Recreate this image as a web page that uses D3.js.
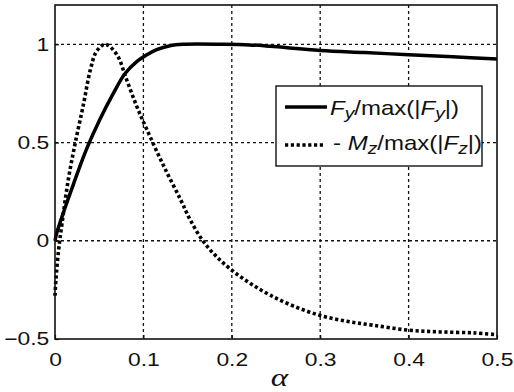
<!DOCTYPE html>
<html>
<head>
<meta charset="utf-8">
<script src="https://d3js.org/d3.v7.min.js"></script>
<style>
  body { margin: 0; background: #fff; }
  text { font-family: "Liberation Sans", Arial, sans-serif; }
</style>
</head>
<body>
<div id="chart"></div>
<script>
// data
var fyAlpha = [0, 0.002, 0.01, 0.021, 0.036, 0.051, 0.066, 0.079, 0.0925, 0.104, 0.115, 0.13, 0.145, 0.19, 0.22, 0.2435, 0.3, 0.35, 0.4, 0.45, 0.5];
var fyValue = [0, 0.04, 0.15, 0.29, 0.47, 0.62, 0.75, 0.85, 0.912, 0.947, 0.973, 0.993, 1.0, 1.0, 0.997, 0.99, 0.969, 0.958, 0.947, 0.936, 0.925];
var mzAlpha = [0, 0.001, 0.004, 0.008, 0.015, 0.023, 0.032, 0.04, 0.047, 0.057, 0.07, 0.081, 0.0925, 0.104, 0.123, 0.142, 0.153, 0.168, 0.183, 0.2, 0.221, 0.2435, 0.27, 0.3, 0.33, 0.36, 0.4, 0.436, 0.474, 0.5];
var mzValue = [-0.28, -0.2, -0.05, 0.09, 0.31, 0.5, 0.69, 0.87, 0.964, 1.0, 0.947, 0.82, 0.684, 0.565, 0.38, 0.21, 0.106, -0.005, -0.082, -0.15, -0.217, -0.277, -0.333, -0.38, -0.41, -0.43, -0.455, -0.464, -0.469, -0.478];
var xTicks = [0, 0.1, 0.2, 0.3, 0.4, 0.5];
var yTicks = [-0.5, 0, 0.5, 1];

var width = 514, height = 392;
var margin = {top: 5, left: 55, right: 17, bottom: 53};
var w = width - margin.left - margin.right, h = height - margin.top - margin.bottom;
var sx = 1.27; // the source picture is stretched sideways
var sxLeg = 1.2;

var svg = d3.select("#chart").append("svg")
    .attr("width", width)
    .attr("height", height);
var g = svg.append("g")
    .attr("transform", "translate(" + margin.left + "," + margin.top + ")");

var x = d3.scaleLinear().domain([0, 0.5]).range([0, w]);
var y = d3.scaleLinear().domain([-0.5, 1.2]).range([h, 0]);

// grid
g.selectAll(".gx").data(xTicks.slice(1, -1)).enter().append("line")
    .attr("x1", function(d) { return x(d); }).attr("x2", function(d) { return x(d); })
    .attr("y1", 0).attr("y2", h)
    .attr("stroke", "#111").attr("stroke-width", 1.3).attr("stroke-dasharray", "3,3");
g.selectAll(".gy").data(yTicks.slice(1)).enter().append("line")
    .attr("y1", function(d) { return y(d); }).attr("y2", function(d) { return y(d); })
    .attr("x1", 0).attr("x2", w)
    .attr("stroke", "#111").attr("stroke-width", 1.3).attr("stroke-dasharray", "3,3");

// axes, ticks pointing inwards
var xAxis = g.append("g")
    .attr("transform", "translate(0," + h + ")")
    .call(d3.axisBottom(x).tickValues(xTicks).tickSize(-4).tickPadding(14)
      .tickFormat(function(d) { return d === 0 ? "0" : d3.format(".1f")(d); }));
var yAxis = g.append("g")
    .call(d3.axisLeft(y).tickValues(yTicks).tickSize(-4).tickPadding(10)
      .tickFormat(function(d) { return d === 0 ? "0" : d === 1 ? "1" : d3.format(".1f")(d).replace("-", "\u2013"); }));
[xAxis, yAxis].forEach(function(a) {
  a.select(".domain").remove();
  a.selectAll("line").attr("stroke", "#111").attr("stroke-width", 1.2);
  a.selectAll("text").attr("font-size", 18).attr("fill", "#111")
    .style("font-family", "'Liberation Sans', Arial, sans-serif");
});
xAxis.selectAll("text").attr("transform", "scale(" + sx + ",1)");
yAxis.selectAll("text").attr("transform", "translate(7,0) scale(" + sx + ",1)");

// curves
var line = d3.line()
    .x(function(d) { return x(d[0]); })
    .y(function(d) { return y(d[1]); })
    .curve(d3.curveCatmullRom.alpha(0.5));

g.append("path")
    .datum(fyAlpha.map(function(a, i) { return [a, fyValue[i]]; }))
    .attr("d", line)
    .attr("fill", "none").attr("stroke", "#000").attr("stroke-width", 3.5);

g.append("path")
    .datum(mzAlpha.map(function(a, i) { return [a, mzValue[i]]; }))
    .attr("d", line)
    .attr("fill", "none").attr("stroke", "#000").attr("stroke-width", 3.6)
    .attr("stroke-dasharray", "3.2,2.6");

// frame
g.append("rect")
    .attr("width", w).attr("height", h)
    .attr("fill", "none").attr("stroke", "#111").attr("stroke-width", 1.6);

// legend
var lg = svg.append("g").attr("transform", "translate(276,86)");
lg.append("rect").attr("width", 206).attr("height", 80)
    .attr("fill", "#fff").attr("stroke", "#111").attr("stroke-width", 1.4);
lg.append("line").attr("x1", 9).attr("x2", 51).attr("y1", 21).attr("y2", 21)
    .attr("stroke", "#000").attr("stroke-width", 3.5);
lg.append("line").attr("x1", 9).attr("x2", 49).attr("y1", 59).attr("y2", 59)
    .attr("stroke", "#000").attr("stroke-width", 3.6).attr("stroke-dasharray", "3.2,2.6");

var t1 = lg.append("text").attr("transform", "translate(54,29) scale(" + sxLeg + ",1)")
    .attr("font-size", 20).attr("fill", "#111");
t1.append("tspan").attr("font-style", "italic").text("F");
t1.append("tspan").attr("font-style", "italic").attr("font-size", 16).attr("dy", 4).text("y");
t1.append("tspan").attr("dy", -4).text("/max(|");
t1.append("tspan").attr("font-style", "italic").text("F");
t1.append("tspan").attr("font-style", "italic").attr("font-size", 16).attr("dy", 4).text("y");
t1.append("tspan").attr("dy", -4).text("|)");

var t2 = lg.append("text").attr("transform", "translate(57,64) scale(" + sxLeg + ",1)")
    .attr("font-size", 20).attr("fill", "#111");
t2.append("tspan").text("- ");
t2.append("tspan").attr("font-style", "italic").text("M");
t2.append("tspan").attr("font-style", "italic").attr("font-size", 16).attr("dy", 4).text("z");
t2.append("tspan").attr("dy", -4).text("/max(|");
t2.append("tspan").attr("font-style", "italic").text("F");
t2.append("tspan").attr("font-style", "italic").attr("font-size", 16).attr("dy", 4).text("z");
t2.append("tspan").attr("dy", -4).text("|)");

// x label
svg.append("text")
    .attr("transform", "translate(" + (margin.left + x(0.254)) + ",386) scale(" + sx + ",1)")
    .attr("text-anchor", "middle")
    .style("font-family", "'Liberation Serif', 'DejaVu Serif', serif")
    .attr("font-style", "italic").attr("font-size", 26).attr("fill", "#111")
    .text("\u03b1");
</script>
</body>
</html>
